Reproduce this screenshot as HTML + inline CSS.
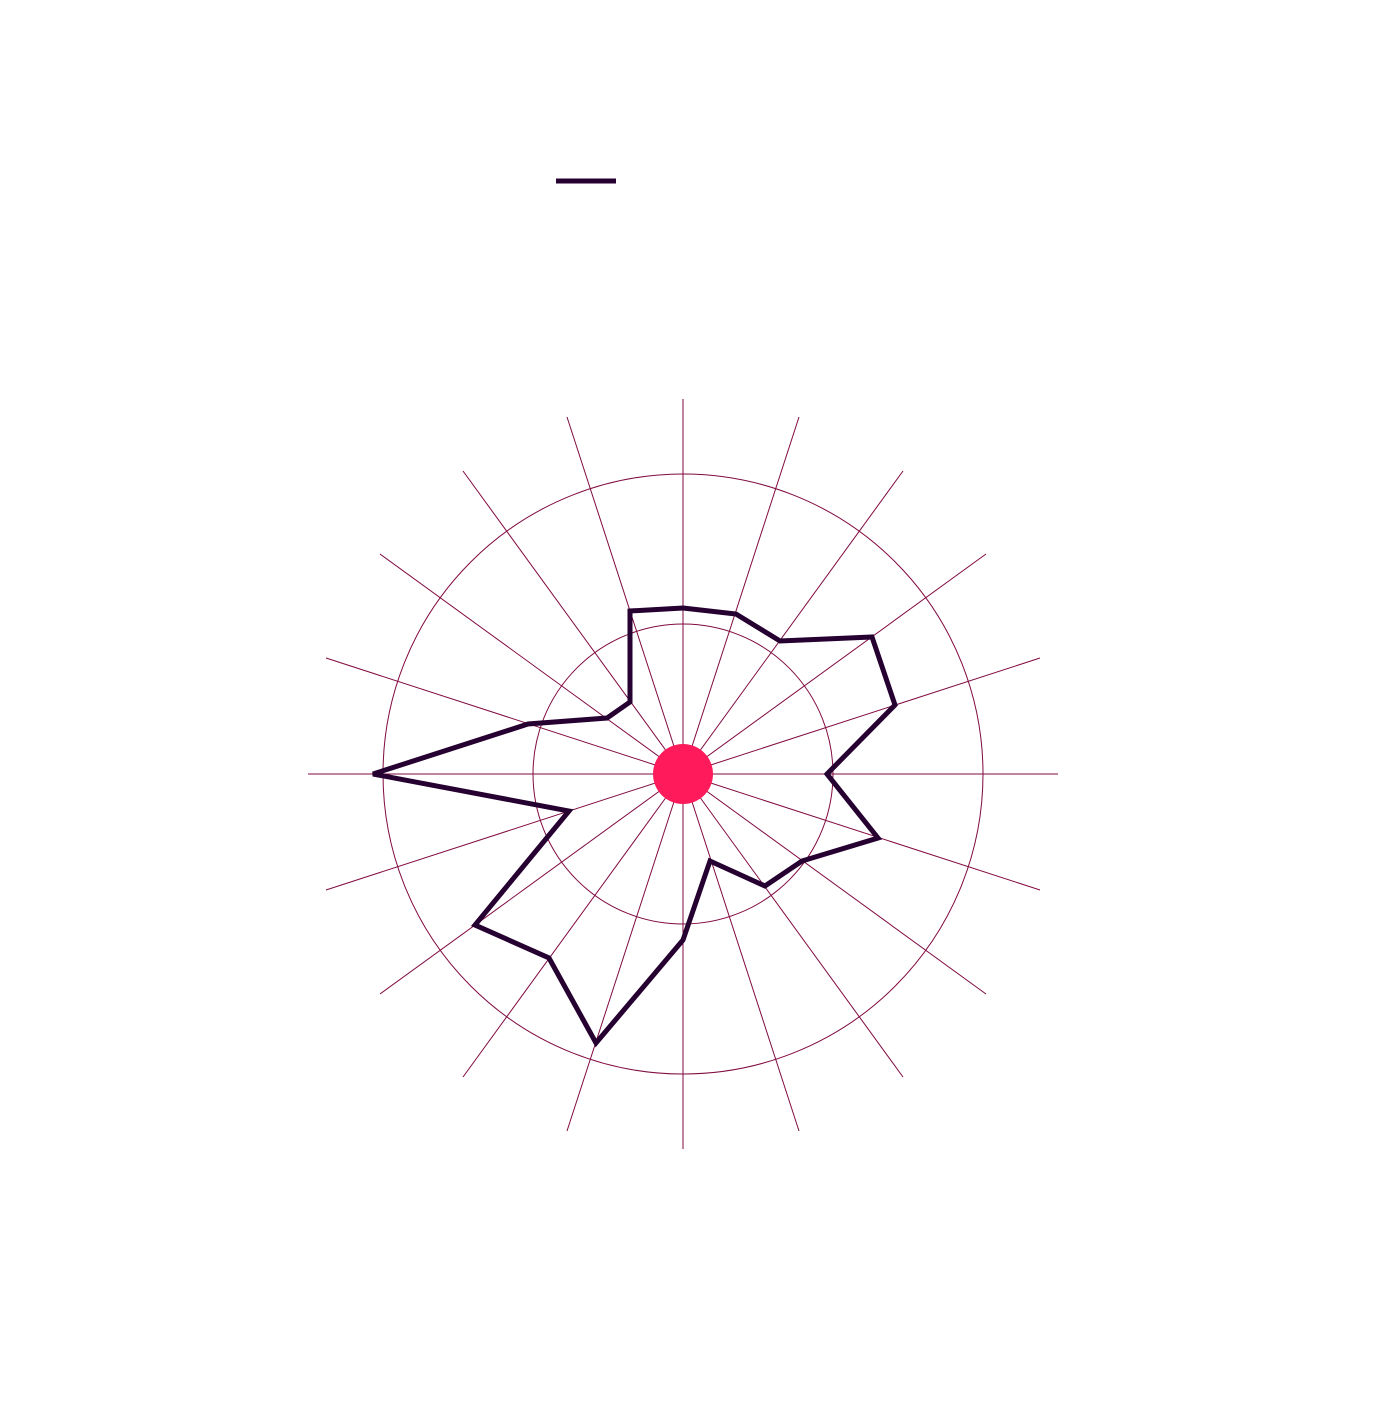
<!DOCTYPE html>
<html><head><style>html,body{margin:0;padding:0;background:#fff;}</style></head>
<body>
<svg width="1400" height="1400" viewBox="0 0 1400 1400" xmlns="http://www.w3.org/2000/svg">
<rect width="1400" height="1400" fill="#fff"/>
<line x1="556" y1="181" x2="616" y2="181" stroke="#250030" stroke-width="5"/>
<g stroke="#800a40" stroke-width="1" fill="none">
<circle cx="683" cy="774" r="150"/>
<circle cx="683" cy="774" r="300"/>
<g id="sp">
<line x1="683" y1="774" x2="683" y2="399"/>
<line x1="683" y1="774" x2="799" y2="417"/>
<line x1="683" y1="774" x2="903" y2="471"/>
<line x1="683" y1="774" x2="986" y2="554"/>
<line x1="683" y1="774" x2="1040" y2="658"/>
<line x1="683" y1="774" x2="1058" y2="774"/>
<line x1="683" y1="774" x2="1040" y2="890"/>
<line x1="683" y1="774" x2="986" y2="994"/>
<line x1="683" y1="774" x2="903" y2="1077"/>
<line x1="683" y1="774" x2="799" y2="1131"/>
<line x1="683" y1="774" x2="683" y2="1149"/>
<line x1="683" y1="774" x2="567" y2="1131"/>
<line x1="683" y1="774" x2="463" y2="1077"/>
<line x1="683" y1="774" x2="380" y2="994"/>
<line x1="683" y1="774" x2="326" y2="890"/>
<line x1="683" y1="774" x2="308" y2="774"/>
<line x1="683" y1="774" x2="326" y2="658"/>
<line x1="683" y1="774" x2="380" y2="554"/>
<line x1="683" y1="774" x2="463" y2="471"/>
<line x1="683" y1="774" x2="567" y2="417"/>
</g>
</g>
<polygon points="683,608 736,614 780,641 872,637 895,705 827,774 878,838 802,861 765,886 710,861 683,940 596,1043 549,958 475,925 569,811 373,774 528,724 607,718 630,702 630,611" fill="none" stroke="#250030" stroke-width="5" stroke-linejoin="miter"/>
<circle cx="683" cy="774" r="30" fill="#ff1a5c"/>
</svg>
</body></html>
